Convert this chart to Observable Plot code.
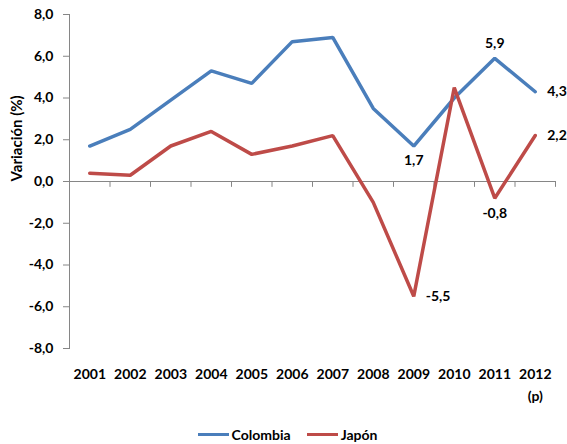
<!DOCTYPE html>
<html><head><meta charset="utf-8">
<script src="https://cdn.jsdelivr.net/npm/d3@7"></script>
<script src="https://cdn.jsdelivr.net/npm/@observablehq/plot@0.6"></script>
<style>
body{margin:0;background:#fff;font-family:Lato,sans-serif;}
#legend{display:flex;justify-content:center;align-items:center;height:48px;font:bold 14px Lato,sans-serif;color:#000;padding-left:8px;}
.item{display:flex;align-items:center;margin:0 8px;}
.sw{width:31px;height:0;border-top:3.5px solid;margin-right:3px;}
</style></head><body><div id="chart"></div><div id="legend"></div>
<script>
const years = [2001,2002,2003,2004,2005,2006,2007,2008,2009,2010,2011,2012];
const yearLabels = ["2001","2002","2003","2004","2005","2006","2007","2008","2009","2010","2011","2012\n(p)"];
const colombia = [1.7,2.5,3.9,5.3,4.7,6.7,6.9,3.5,1.7,4.0,5.9,4.3];
const japon = [0.4,0.3,1.7,2.4,1.3,1.7,2.2,-1.0,-5.5,4.5,-0.8,2.2];
const seriesNames = ["Colombia","Japón"];
const colombiaLabeledYears = [2009,2011,2012];
const japonLabeledYears = [2009,2011,2012];
const yTicks = [-8,-6,-4,-2,0,2,4,6,8];
const yLabel = "Variación (%)";

const colors = {"Colombia":"#4A7EBB","Japón":"#BE4B48"};
const fmt = d => d.toFixed(1).replace(".", ",");
const rows = [];
years.forEach((y,i)=>{ rows.push({series:"Colombia",year:y,value:colombia[i]}); rows.push({series:"Japón",year:y,value:japon[i]}); });
const labeled = rows.filter(r => (r.series==="Colombia" ? colombiaLabeledYears : japonLabeledYears).includes(r.year));
const bounds = years.map(y => y + 0.5);

// placement of value labels
const place = r => {
  if (r.year === 2012) return "right";
  if (r.series === "Colombia") return r.year === 2009 ? "below" : "above";
  return r.year === 2009 ? "right" : "below";
};
const lab = pos => labeled.filter(r => place(r) === pos);

const chart = Plot.plot({
  width: 567, height: 410,
  marginLeft: 69, marginRight: 12, marginTop: 14, marginBottom: 62,
  style: {fontFamily: "Lato, sans-serif", fontSize: "14px", fontWeight: "bold", color: "#000", background: "#fff"},
  x: {domain: [2000.5, 2012.5]},
  y: {domain: [-8, 8]},
  marks: [
    Plot.frame({anchor: "left", stroke: "#868686"}),
    Plot.ruleY([0], {stroke: "#868686"}),
    Plot.ruleX(bounds, {y1: 0, y2: -0.28, stroke: "#868686"}),
    Plot.axisY({ticks: yTicks, tickFormat: fmt, tickSize: 6, tickPadding: 10, stroke: "#868686", label: null}),
    Plot.axisX({ticks: years, tickFormat: d => yearLabels[years.indexOf(d)], tickSize: 0, tickPadding: 15, lineHeight: 1.55, label: null}),
    Plot.text([yLabel], {frameAnchor: "left", rotate: -90, dx: -52, fontSize: 15, fontWeight: "bold"}),
    Plot.line(rows, {x: "year", y: "value", z: "series", stroke: d => colors[d.series], strokeWidth: 3.5, strokeLinejoin: "miter"}),
    Plot.text(lab("below"), {x: "year", y: "value", text: d => fmt(d.value), dy: 15, fontSize: 14}),
    Plot.text(lab("above"), {x: "year", y: "value", text: d => fmt(d.value), dy: -15, fontSize: 14}),
    Plot.text(lab("right"), {x: "year", y: "value", text: d => fmt(d.value), dx: 12, textAnchor: "start", fontSize: 14})
  ]
});
document.getElementById("chart").append(chart);

const legend = document.getElementById("legend");
seriesNames.forEach(n => {
  const it = document.createElement("div"); it.className = "item";
  const sw = document.createElement("span"); sw.className = "sw"; sw.style.borderColor = colors[n];
  const t = document.createElement("span"); t.textContent = n;
  it.append(sw, t); legend.append(it);
});
</script></body></html>
